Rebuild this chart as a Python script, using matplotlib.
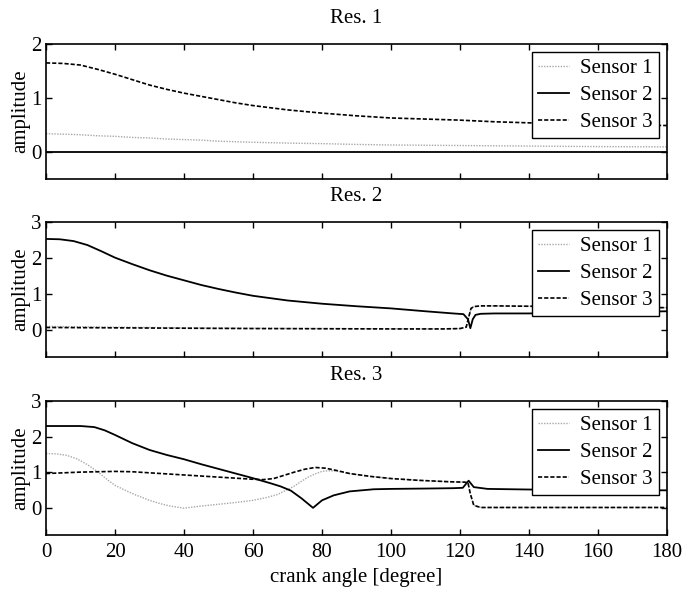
import matplotlib
matplotlib.use('Agg')
import matplotlib.pyplot as plt

plt.rcParams['font.family'] = ['Liberation Serif', 'DejaVu Serif']

# --- data ---
sensor_labels = ['Sensor 1', 'Sensor 2', 'Sensor 3']
panel_titles = ['Res. 1', 'Res. 2', 'Res. 3']
x_ticks = [0, 20, 40, 60, 80, 100, 120, 140, 160, 180]

# Res. 1
r1_x = [0, 5, 10, 15, 20, 25, 30, 35, 40, 45, 50, 55, 60, 70, 80, 90, 100, 110, 120, 130, 140, 160, 180]
r1_s1 = [0.34, 0.33, 0.32, 0.30, 0.29, 0.27, 0.26, 0.24, 0.23, 0.22, 0.20, 0.19, 0.18, 0.165, 0.155,
         0.14, 0.13, 0.125, 0.12, 0.115, 0.11, 0.10, 0.095]
r1_s2 = [0.0] * len(r1_x)
r1_s3 = [1.65, 1.64, 1.61, 1.53, 1.44, 1.34, 1.24, 1.16, 1.09, 1.03, 0.97, 0.91, 0.86, 0.78, 0.72,
         0.67, 0.63, 0.61, 0.59, 0.56, 0.54, 0.51, 0.49]

# Res. 2
r2_x2 = [0, 4, 8, 12, 16, 20, 25, 30, 35, 40, 45, 50, 55, 60, 70, 80, 90, 100, 110, 118, 121,
         122.3, 123, 123.7, 124.5, 126, 130, 140, 160, 180]
r2_s2 = [2.53, 2.52, 2.47, 2.36, 2.19, 2.01, 1.83, 1.66, 1.51, 1.38, 1.25, 1.14, 1.04, 0.95, 0.82,
         0.73, 0.66, 0.60, 0.52, 0.46, 0.44, 0.30, 0.05, 0.30, 0.42, 0.45, 0.46, 0.46, 0.49, 0.52]
r2_x3 = [0, 20, 40, 60, 80, 100, 115, 120, 121.8, 122.5, 123.2, 124, 126, 130, 140, 160, 180]
r2_s1 = [0.10, 0.08, 0.06, 0.05, 0.04, 0.035, 0.03, 0.04, 0.08, 0.35, 0.60, 0.65, 0.67, 0.67,
         0.66, 0.64, 0.62]
r2_s3 = [0.07, 0.06, 0.05, 0.04, 0.035, 0.03, 0.03, 0.04, 0.08, 0.35, 0.60, 0.65, 0.67, 0.67,
         0.66, 0.64, 0.62]

# Res. 3
r3_x1 = [0, 3, 6, 9, 12, 15, 18, 20, 23, 26, 30, 33, 36, 40, 45, 50, 55, 60, 64, 67, 70, 72, 74,
         76, 78, 80, 82, 85, 88, 94, 100, 108, 117, 121, 122.3, 123, 124, 126, 150, 180]
r3_s1 = [1.53, 1.52, 1.48, 1.38, 1.22, 1.02, 0.78, 0.64, 0.50, 0.37, 0.22, 0.13, 0.06, 0.0, 0.06,
         0.11, 0.16, 0.22, 0.30, 0.38, 0.52, 0.62, 0.75, 0.87, 0.96, 1.03, 1.05, 1.03, 0.97, 0.89,
         0.83, 0.78, 0.74, 0.73, 0.72, 0.40, 0.08, 0.02, 0.02, 0.02]
r3_x2 = [0, 5, 10, 14, 17, 20, 25, 30, 35, 40, 45, 50, 55, 60, 65, 68, 71, 74, 77.4, 80, 83.4,
         88, 95, 100, 110, 118, 120.8, 122.5, 124, 128, 135, 142, 160, 180]
r3_s2 = [2.30, 2.30, 2.30, 2.27, 2.18, 2.05, 1.82, 1.63, 1.49, 1.37, 1.23, 1.10, 0.97, 0.84, 0.70,
         0.61, 0.49, 0.28, 0.01, 0.22, 0.36, 0.47, 0.53, 0.54, 0.55, 0.56, 0.57, 0.77, 0.59, 0.54,
         0.53, 0.52, 0.51, 0.50]
r3_x3 = [0, 5, 10, 15, 20, 25, 30, 35, 40, 45, 50, 55, 60, 63, 66, 69, 72, 75, 78, 81, 84, 88, 94,
         100, 108, 117, 121, 122.3, 123, 124, 126, 130, 150, 180]
r3_s3 = [0.97, 0.99, 1.01, 1.02, 1.03, 1.02, 0.99, 0.96, 0.93, 0.90, 0.87, 0.84, 0.81, 0.80, 0.83,
         0.92, 1.01, 1.09, 1.14, 1.12, 1.06, 0.97, 0.89, 0.83, 0.78, 0.74, 0.73, 0.72, 0.40, 0.08,
         0.02, 0.02, 0.02, 0.02]

panels = [
    ((r1_x, r1_s1), (r1_x, r1_s2), (r1_x, r1_s3), (-0.5, 2), [0, 1, 2]),
    ((r2_x3, r2_s1), (r2_x2, r2_s2), (r2_x3, r2_s3), (-0.75, 3), [0, 1, 2, 3]),
    ((r3_x1, r3_s1), (r3_x2, r3_s2), (r3_x3, r3_s3), (-0.75, 3), [0, 1, 2, 3]),
]

styles = [
    dict(color='#a8a8a8', linestyle=(0, (1, 1)), linewidth=1.0),
    dict(color='black', linestyle='-', linewidth=1.3),
    dict(color='black', linestyle=(0, (2.5, 1.2)), linewidth=1.2),
]

W, H = 683, 597
fig = plt.figure(figsize=(W / 100, H / 100), dpi=100)
ax_left, ax_right = 46, 667
ax_rows = [(44, 179), (222, 357), (401, 535)]
fs = 15

for i, ((xa, ya), (xb, yb), (xc, yc), ylim, yticks) in enumerate(panels):
    top, bot = ax_rows[i]
    ax = fig.add_axes([ax_left / W, 1 - bot / H, (ax_right - ax_left) / W, (bot - top) / H])
    for (xs, ys), lab, st in zip([(xa, ya), (xb, yb), (xc, yc)], sensor_labels, styles):
        ax.plot(xs, ys, label=lab, **st)
    ax.set_xlim(0, 180)
    ax.set_ylim(*ylim)
    ax.set_xticks(x_ticks)
    ax.set_yticks(yticks)
    ax.tick_params(direction='in', top=True, right=True, length=4, width=1.0, labelsize=fs, pad=3)
    ax.tick_params(axis='x', pad=6)
    if i < 2:
        ax.tick_params(labelbottom=False)
    else:
        ax.set_xlabel('crank angle [degree]', fontsize=fs, labelpad=4)
    for sp in ax.spines.values():
        sp.set_linewidth(1.2)
    ax.set_ylabel('amplitude', fontsize=fs, labelpad=1)
    ax.set_title(panel_titles[i], fontsize=fs, pad=15)
    leg = ax.legend(loc='upper right', fontsize=fs, frameon=True, fancybox=False,
                    handlelength=1.5, handletextpad=0.5, borderpad=0.3, labelspacing=0.35,
                    borderaxespad=0.4)
    leg.get_frame().set_edgecolor('black')
    leg.get_frame().set_linewidth(1.0)
    leg.get_frame().set_alpha(1)

fig.savefig('out.png', dpi=100)
